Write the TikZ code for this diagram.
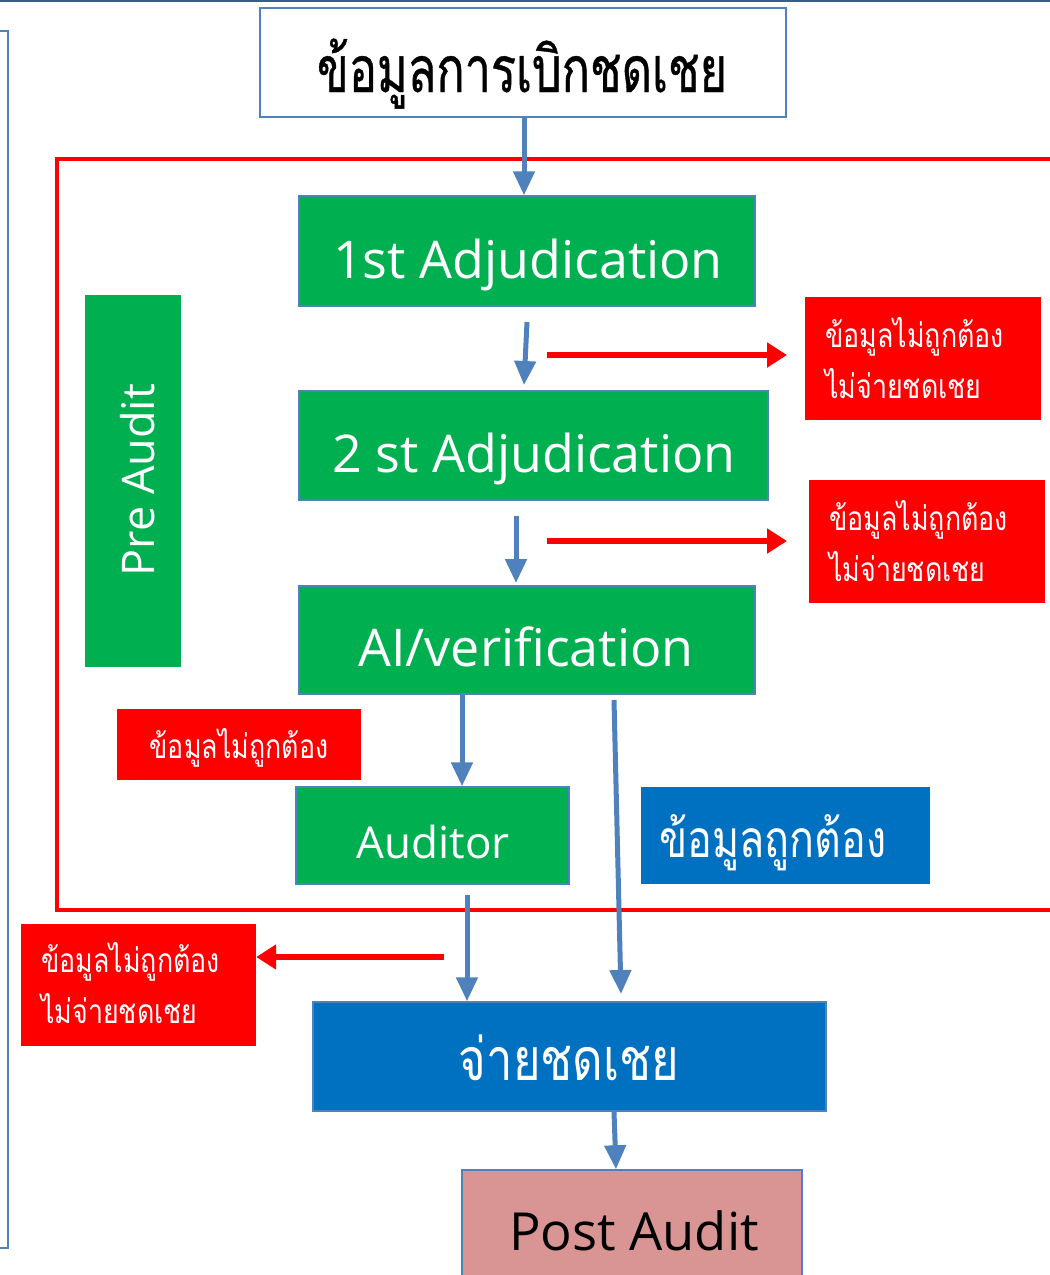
\documentclass[tikz,border=0pt]{standalone}
\usepackage{fontspec}
\setmainfont{Open Sans}
\newfontfamily\thai[Script=Thai,FakeStretch=0.8]{Loma}
\newfontfamily\thaititle[Script=Thai,FakeStretch=0.73,FakeBold=0.6]{Loma}
\usetikzlibrary{arrows.meta,calc}
\definecolor{grn}{HTML}{00B050}
\definecolor{blu}{HTML}{0070C0}
\definecolor{rd}{HTML}{FF0000}
\definecolor{bord}{HTML}{4F81BD}
\definecolor{arr}{HTML}{4F81BD}
\definecolor{pink}{HTML}{D99594}
\definecolor{topline}{HTML}{385D8A}
\tikzset{
  gbox/.style={draw=bord, line width=1.5pt, fill=grn, inner sep=0pt},
  rbox/.style={fill=rd, inner sep=0pt},
  wtxt/.style={text=white, inner sep=0pt, anchor=base},
  entxt/.style={wtxt, font=\fontsize{52}{56}\selectfont},
  rtext/.style={text=white, inner sep=0pt, anchor=base west, font=\thai\fontsize{33.5}{40}\selectfont},
  blarrow/.style={draw=arr, line width=5pt, -{Triangle[width=21pt,length=24pt]}},
  rdarrow/.style={draw=rd, line width=6pt, -{Triangle[width=24pt,length=20pt]}},
}
\begin{document}
\begin{tikzpicture}[x=1pt,y=-1pt]
\useasboundingbox (0,0) rectangle (1050,1275);
% frame lines
\draw[topline, line width=2pt] (0,1) -- (1050,1);
\draw[bord, line width=2pt] (-10,31) -- (8,31) -- (8,1248) -- (-10,1248);
\draw[rd, line width=4pt] (1060,159) -- (57,159) -- (57,910) -- (1060,910);
% boxes
\node[draw=bord, line width=1.5pt, fill=white, inner sep=0pt, minimum width=526pt, minimum height=109pt] (title) at (523,62.5) {};
\node[gbox, minimum width=456pt, minimum height=110pt] (adj1) at (527,251) {};
\node[fill=grn, inner sep=0pt, minimum width=96pt, minimum height=372pt] (pre) at (133,481) {};
\node[rbox, minimum width=236pt, minimum height=123pt] (red1) at (923,358.5) {};
\node[gbox, minimum width=469pt, minimum height=109pt] (adj2) at (533.5,445.5) {};
\node[rbox, minimum width=236pt, minimum height=123pt] (red2) at (927,541.5) {};
\node[gbox, minimum width=456pt, minimum height=108pt] (ai) at (527,640) {};
\node[rbox, minimum width=244pt, minimum height=71pt] (red3) at (239,744.5) {};
\node[gbox, minimum width=273pt, minimum height=97pt] (aud) at (432.5,835.5) {};
\node[fill=blu, inner sep=0pt, minimum width=289pt, minimum height=97pt] (ok) at (785.5,835.5) {};
\node[rbox, minimum width=235pt, minimum height=122pt] (red4) at (138.5,985) {};
\node[draw=bord, line width=1.5pt, fill=blu, inner sep=0pt, minimum width=513pt, minimum height=109pt] (pay) at (569.5,1056.5) {};
\node[draw=bord, line width=1.5pt, fill=pink, inner sep=0pt, minimum width=340pt, minimum height=130pt] (post) at (632,1235) {};
% texts
\node[inner sep=0pt, anchor=base, text=black, font=\thaititle\fontsize{64}{68}\selectfont] (titlet) at (522,92) {ข้อมูลการเบิกชดเชย};
\node[entxt] (adj1t) at (528,278) {1st Adjudication};
\node[text=white, inner sep=0pt, rotate=90, text height=32pt, text depth=0pt, font=\fontsize{45}{50}\selectfont] (pret) at (138.5,480) {Pre Audit};
\node[rtext] (red1a) at (825,347) {ข้อมูลไม่ถูกต้อง};
\node[rtext] (red1b) at (825,398) {ไม่จ่ายชดเชย};
\node[entxt] (adj2t) at (534,472) {2 st Adjudication};
\node[rtext] (red2a) at (829,530) {ข้อมูลไม่ถูกต้อง};
\node[rtext] (red2b) at (829,581) {ไม่จ่ายชดเชย};
\node[entxt] (ait) at (526,666) {AI/verification};
\node[rtext, anchor=base] (red3t) at (239,758) {ข้อมูลไม่ถูกต้อง};
\node[wtxt, font=\fontsize{44}{48}\selectfont] (audt) at (433,858) {Auditor};
\node[wtxt, font=\thai\fontsize{51.5}{56}\selectfont] (okt) at (773,857) {ข้อมูลถูกต้อง};
\node[rtext] (red4a) at (41,972) {ข้อมูลไม่ถูกต้อง};
\node[rtext] (red4b) at (41,1023) {ไม่จ่ายชดเชย};
\node[wtxt, font=\thai\fontsize{59}{64}\selectfont] (payt) at (569,1080) {จ่ายชดเชย};
\node[inner sep=0pt, anchor=base, text=black, font=\fontsize{52.5}{56}\selectfont] (postt) at (634,1250) {Post Audit};
% coordinates for free ends
\coordinate (a2s) at (527,322);
\coordinate (a2e) at (524,385);
\coordinate (a3s) at (516,516);
\coordinate (a3e) at (516,583);
\coordinate (r1s) at (547,355);
\coordinate (r1e) at (787,355);
\coordinate (r2s) at (547,541);
\coordinate (r2e) at (787,541);
\coordinate (oks) at (614,700);
\coordinate (oke) at (621,994);
\coordinate (auds) at (467,895);
\coordinate (r4s) at (444,957);
% arrows
\draw[blarrow] (title.south -| 524,0) -- (adj1.north -| 524,0);
\draw[blarrow] (a2s) -- (a2e);
\draw[rdarrow] (r1s) -- (r1e);
\draw[blarrow] (a3s) -- (a3e);
\draw[rdarrow] (r2s) -- (r2e);
\draw[blarrow] (ai.south -| 462,0) -- (aud.north -| 462,0);
\draw[blarrow] (oks) -- (oke);
\draw[blarrow] (auds) -- (pay.north -| auds);
\draw[rdarrow] (r4s) -- (red4.east |- r4s);
\draw[blarrow] (pay.south -| 614,0) -- (post.north -| 616,0);
\end{tikzpicture}
\end{document}
